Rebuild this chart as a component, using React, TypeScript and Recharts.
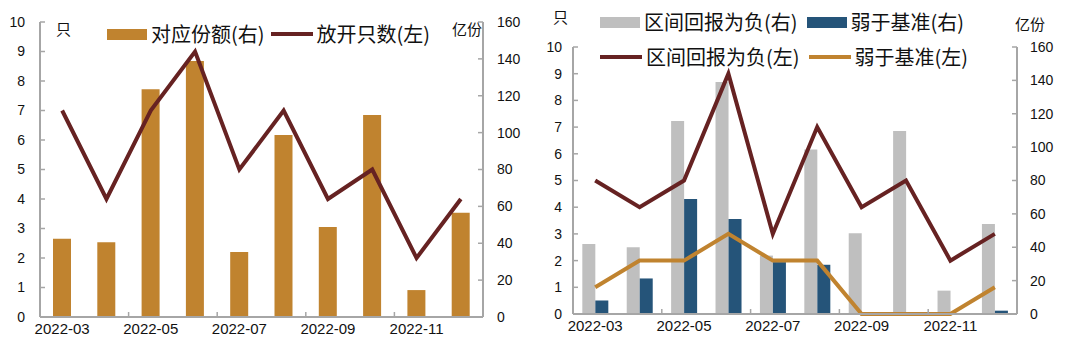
import React from 'react';
import { ComposedChart, Bar, Line, XAxis, YAxis, Legend } from 'recharts';

const months = ['2022-03', '2022-04', '2022-05', '2022-06', '2022-07', '2022-08', '2022-09', '2022-10', '2022-11', '2022-12'];
// left chart
const openCount = [7, 4, 7, 9, 5, 7, 4, 5, 2, 4];
const openShares = [42.5, 40.5, 123.5, 138.8, 35.3, 98.7, 48.8, 109.6, 14.6, 56.6];
// right chart
const negCount = [5, 4, 5, 9, 3, 7, 4, 5, 2, 3];
const weakCount = [1, 2, 2, 3, 2, 2, 0, 0, 0, 1];
const negShares = [42, 40, 115.6, 139, 35, 98.6, 48.4, 109.6, 14, 54];
const weakShares = [8.1, 21.3, 68.9, 57, 31.1, 29.5, 0, 0, 0, 2];

const leftTicks = [0, 1, 2, 3, 4, 5, 6, 7, 8, 9, 10];
const rightTicks = [0, 20, 40, 60, 80, 100, 120, 140, 160];

const FONT = "'Liberation Sans', Arial, 'Noto Sans CJK SC', sans-serif";
const CJK = "'Noto Sans CJK SC', 'Liberation Sans', sans-serif";
const AXIS = '#A6A6A6';
const BROWN = '#662222';
const GOLD = '#C0832F';
const GRAY = '#BFBFBF';
const BLUE = '#255479';

const data1 = months.map((m, i) => ({ month: m, count: openCount[i], shares: openShares[i] }));
const data2 = months.map((m, i) => ({
  month: m,
  neg: negCount[i],
  weak: weakCount[i],
  negS: negShares[i],
  weakS: weakShares[i],
}));

const tickY = { fill: '#111', fontSize: 14, fontFamily: FONT };

// x tick: label at category centre, small inward tick mark on the boundary two categories later
const MonthTick = (props: any) => {
  const { x, y, payload, index } = props;
  const half = payload.offset || 0;
  const last = index >= months.length - 2;
  return (
    <g>
      <text x={x} y={y} dy="0.71em" textAnchor="middle" fill="#111" fontSize={15} fontFamily={FONT}>
        {payload.value}
      </text>
      {!last && <line x1={x + half * 3} x2={x + half * 3} y1={y - 6} y2={y - 11} stroke={AXIS} strokeWidth={1.5} />}
    </g>
  );
};

type Item = { label: string; color: string; kind: 'bar' | 'line' };

const LegendRow = ({ items, gap }: { items: Item[]; gap: number }) => (
  <div style={{ display: 'flex', alignItems: 'center', gap }}>
    {items.map((it) => (
      <div key={it.label} style={{ display: 'flex', alignItems: 'center' }}>
        {it.kind === 'bar' ? (
          <div style={{ width: 40, height: 11, background: it.color }} />
        ) : (
          <div style={{ width: 42, height: 4, background: it.color }} />
        )}
        <span style={{ marginLeft: 4, fontSize: 20, fontFamily: CJK, color: '#111', lineHeight: '24px' }}>{it.label}</span>
      </div>
    ))}
  </div>
);

const unit = (text: string, left: number, top: number) => (
  <div style={{ position: 'absolute', left, top, fontSize: 15, fontFamily: CJK, color: '#111', lineHeight: '16px' }}>
    {text}
  </div>
);

const axisLine = { stroke: AXIS, strokeWidth: 2 };
const tickLine = { stroke: AXIS, strokeWidth: 1.5 };

export default function App() {
  return (
    <div style={{ position: 'fixed', left: 0, top: 0, width: 1080, height: 355, background: '#fff' }}>
      <div style={{ position: 'absolute', left: 0, top: 0 }}>
        <ComposedChart width={540} height={355} data={data1} margin={{ top: 22, right: 0, bottom: 8, left: 0 }}>
          <XAxis dataKey="month" interval={1} tick={<MonthTick />} tickLine={false} tickSize={0} axisLine={axisLine} height={30} tickMargin={6} />
          <YAxis yAxisId="l" domain={[0, 10]} ticks={leftTicks} width={40} tick={tickY} tickLine={tickLine} tickSize={-5} tickMargin={20} axisLine={axisLine} interval={0} />
          <YAxis yAxisId="r" orientation="right" domain={[0, 160]} ticks={rightTicks} width={57} tick={{ ...tickY, textAnchor: 'start' }} tickLine={tickLine} tickSize={-5} tickMargin={19} axisLine={axisLine} interval={0} />
          <Bar yAxisId="r" dataKey="shares" name="对应份额(右)" fill={GOLD} barSize={18} isAnimationActive={false} />
          <Line yAxisId="l" dataKey="count" name="放开只数(左)" stroke={BROWN} strokeWidth={4} dot={false} isAnimationActive={false} />
          <Legend
            layout="horizontal"
            verticalAlign="middle"
            align="center"
            wrapperStyle={{ position: 'absolute', left: 107, top: 22, width: 'auto' }}
            content={() => (
              <LegendRow
                gap={6}
                items={[
                  { label: '对应份额(右)', color: GOLD, kind: 'bar' },
                  { label: '放开只数(左)', color: BROWN, kind: 'line' },
                ]}
              />
            )}
          />
        </ComposedChart>
        {unit('只', 56, 21)}
        {unit('亿份', 452, 21)}
      </div>
      <div style={{ position: 'absolute', left: 540, top: 0 }}>
        <ComposedChart width={540} height={355} data={data2} margin={{ top: 47, right: 0, bottom: 11, left: 0 }} barCategoryGap="21%" barGap={0}>
          <XAxis dataKey="month" interval={1} tick={<MonthTick />} tickLine={false} tickSize={0} axisLine={axisLine} height={30} tickMargin={6} />
          <YAxis yAxisId="l" domain={[0, 10]} ticks={leftTicks} width={33} tick={tickY} tickLine={tickLine} tickSize={-5} tickMargin={16} axisLine={axisLine} interval={0} />
          <YAxis yAxisId="r" orientation="right" domain={[0, 160]} ticks={rightTicks} width={63} tick={{ ...tickY, textAnchor: 'start' }} tickLine={tickLine} tickSize={-5} tickMargin={18} axisLine={axisLine} interval={0} />
          <Bar yAxisId="r" dataKey="negS" name="区间回报为负(右)" fill={GRAY} isAnimationActive={false} />
          <Bar yAxisId="r" dataKey="weakS" name="弱于基准(右)" fill={BLUE} isAnimationActive={false} />
          <Line yAxisId="l" dataKey="neg" name="区间回报为负(左)" stroke={BROWN} strokeWidth={4} dot={false} isAnimationActive={false} />
          <Line yAxisId="l" dataKey="weak" name="弱于基准(左)" stroke={GOLD} strokeWidth={4} dot={false} isAnimationActive={false} />
          <Legend
            layout="horizontal"
            verticalAlign="middle"
            align="center"
            wrapperStyle={{ position: 'absolute', left: 60, top: 10, width: 'auto' }}
            content={() => (
              <div>
                <LegendRow
                  gap={9}
                  items={[
                    { label: '区间回报为负(右)', color: GRAY, kind: 'bar' },
                    { label: '弱于基准(右)', color: BLUE, kind: 'bar' },
                  ]}
                />
                <div style={{ height: 11 }} />
                <LegendRow
                  gap={9}
                  items={[
                    { label: '区间回报为负(左)', color: BROWN, kind: 'line' },
                    { label: '弱于基准(左)', color: GOLD, kind: 'line' },
                  ]}
                />
              </div>
            )}
          />
        </ComposedChart>
        {unit('只', 13, 9)}
        {unit('亿份', 475, 16)}
      </div>
    </div>
  );
}
